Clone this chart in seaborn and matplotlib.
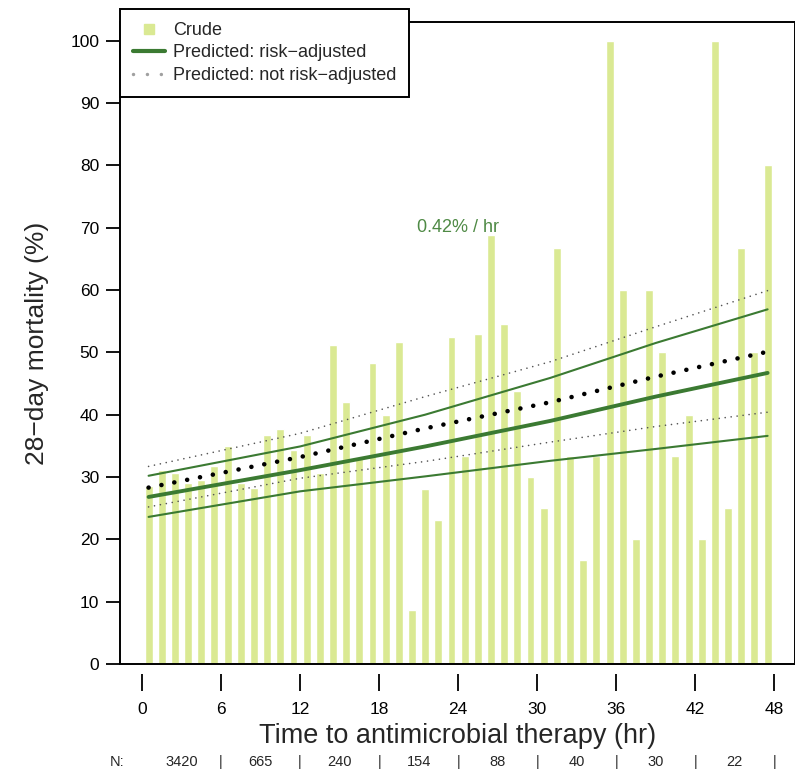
import matplotlib
matplotlib.use("Agg")
import matplotlib.pyplot as plt
import matplotlib.transforms as mtransforms
from matplotlib.lines import Line2D
from matplotlib.patches import Rectangle
import seaborn as sns

# crude 28-day mortality per hour of delay
hours = [h + 0.5 for h in range(48)]
crude = [28.5, 31.1, 30.7, 29.0, 29.6, 31.7, 35.0, 29.0, 28.3, 36.8,
         37.7, 34.4, 36.8, 30.7, 51.2, 42.1, 33.0, 48.3, 40.0, 51.7,
         8.7, 28.0, 23.1, 52.4, 33.4, 52.9, 68.8, 54.5, 43.8, 30.0,
         25.0, 66.7, 33.3, 16.7, 33.3, 100.0, 60.0, 20.0, 60.0, 50.0,
         33.3, 40.0, 20.0, 100.0, 25.0, 66.7, 50.0, 80.0]

# predicted curves, read at a few hours
line_hours = [0.5, 12, 21.5, 31, 39, 47.5]
adj_mid = [26.8, 31.1, 34.9, 39.0, 42.9, 46.7]
adj_hi = [30.2, 34.9, 40.0, 45.9, 51.5, 56.9]
adj_lo = [23.6, 27.7, 30.1, 32.6, 34.5, 36.6]
raw_mid = [28.3, 33.2, 37.8, 42.0, 46.1, 50.1]
raw_hi = [31.7, 37.0, 42.9, 48.5, 54.1, 59.9]
raw_lo = [25.2, 29.8, 32.5, 35.6, 38.1, 40.4]

n_labels = ["3420", "665", "240", "154", "88", "40", "30", "22"]
n_centers = [3, 9, 15, 21, 27, 33, 39, 45]
n_seps = [6, 12, 18, 24, 30, 36, 42, 48]

bar_color = "#dae993"
green = "#3b7a32"

sns.set_style("white")
plt.rcParams["font.family"] = ["Liberation Sans", "DejaVu Sans"]
plt.rcParams["axes.unicode_minus"] = True

fig = plt.figure(figsize=(7.95, 7.71), dpi=100)
ax = fig.add_axes([120 / 795, 1 - 664 / 771, 675 / 795, 642 / 771])

sns.barplot(x=hours, y=crude, native_scale=True, width=0.6, color=bar_color,
            saturation=1, ax=ax, zorder=1)

dot_big = (0, (0.01, 2.85))
dot_small = (0, (0.01, 3.6))
sns.lineplot(x=line_hours, y=raw_hi, ax=ax, color="#555555", linewidth=1.2,
             linestyle=dot_small, dash_capstyle="round", zorder=3)
sns.lineplot(x=line_hours, y=raw_lo, ax=ax, color="#555555", linewidth=1.2,
             linestyle=dot_small, dash_capstyle="round", zorder=3)
sns.lineplot(x=line_hours, y=adj_hi, ax=ax, color=green, linewidth=1.5, zorder=3)
sns.lineplot(x=line_hours, y=adj_lo, ax=ax, color=green, linewidth=1.5, zorder=3)
sns.lineplot(x=line_hours, y=adj_mid, ax=ax, color=green, linewidth=2.8, zorder=4)
sns.lineplot(x=line_hours, y=raw_mid, ax=ax, color="black", linewidth=3.3,
             linestyle=dot_big, dash_capstyle="round", zorder=4)

ax.text(24, 70, "0.42% / hr", color="#4f8a45", fontsize=13, ha="center", va="center")

ax.set_xlim(-1.67, 49.58)
ax.set_ylim(0, 103)
ax.set_xticks(range(0, 49, 6))
ax.set_xticklabels([str(t) for t in range(0, 49, 6)])
ax.set_yticks(range(0, 101, 10))
ax.set_yticklabels([str(t) for t in range(0, 101, 10)])

# box frame drawn separately so the x ticks can hang below it
for side in ["top", "right", "bottom", "left"]:
    ax.spines[side].set_visible(False)
ax.spines["bottom"].set_position(("outward", 7))
ax.add_patch(Rectangle((0, 0), 1, 1, transform=ax.transAxes, fill=False,
                       edgecolor="black", linewidth=1.4, clip_on=False, zorder=5))

ax.tick_params(axis="x", direction="out", length=12, width=1.3, pad=8,
               labelsize=12.5, bottom=True, colors="black")
ax.tick_params(axis="y", direction="out", length=10, width=1.3, pad=5,
               labelsize=12.5, left=True, colors="black")

ax.set_xlabel("Time to antimicrobial therapy (hr)", fontsize=19.5, labelpad=5)
ax.set_ylabel("28\u2212day mortality (%)", fontsize=19, labelpad=15)

trans = mtransforms.blended_transform_factory(ax.transData, fig.transFigure)
n_y = 1 - 762 / 771
fig.text(117 / 795, n_y, "N:", fontsize=10.5, ha="center", va="center")
for c, lab in zip(n_centers, n_labels):
    ax.text(c, n_y, lab, transform=trans, fontsize=10.5, ha="center", va="center")
for s in n_seps:
    ax.text(s, n_y, "|", transform=trans, fontsize=10.5, ha="center", va="center")

handles = [
    Line2D([], [], linestyle="none", marker="s", markersize=7,
           markerfacecolor=bar_color, markeredgecolor=bar_color),
    Line2D([], [], color=green, linewidth=3),
    Line2D([], [], color="#a0a0a0", linewidth=2.5, linestyle=(0, (0.01, 4)),
           dash_capstyle="round"),
]
labels = ["Crude", "Predicted: risk\u2212adjusted", "Predicted: not risk\u2212adjusted"]
leg = ax.legend(handles, labels, loc="upper left",
                bbox_to_anchor=(120 / 795, 1 - 9 / 771),
                bbox_transform=fig.transFigure, borderaxespad=0, fontsize=13,
                frameon=True, fancybox=False, framealpha=1, edgecolor="black",
                handlelength=1.75, handletextpad=0.45, labelspacing=0.3,
                borderpad=0.72)
leg.get_frame().set_linewidth(1.4)
leg.set_zorder(10)

fig.savefig("out.png", dpi=100)
